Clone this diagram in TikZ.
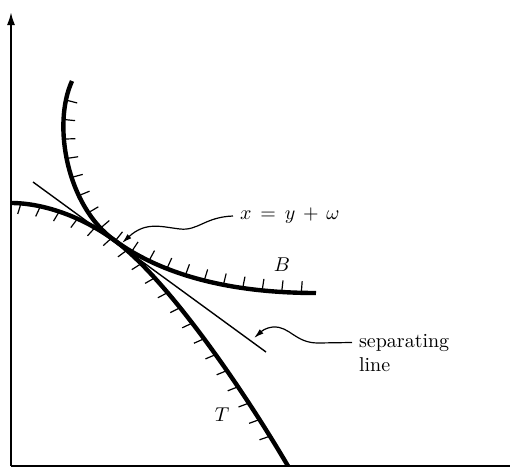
\documentclass[tikz,border=0pt]{standalone}
\usepackage{amsmath}
\usepackage{tikz}
\usetikzlibrary{arrows.meta}
\usetikzlibrary{decorations.markings}
\tikzset{
    % axes
    axisline/.style={
        line width=1pt,
        black
    },
    % thick boundary curves B and T
    boundcurve/.style={
        line width=2.2pt,
        black
    },
    % short ticks on the upper side of B
    hatchB/.style={
        postaction={decorate},
        decoration={markings,
            mark=between positions 10pt and -4pt step 9.8pt with
            {\draw[line width=0.6pt] (0pt,0pt) -- (0.3pt,5.8pt);}}
    },
    % short ticks on the lower side of T
    hatchT/.style={
        postaction={decorate},
        decoration={markings,
            mark=between positions 5pt and -9pt step 9.8pt with
            {\draw[line width=0.6pt] (0pt,0pt) -- (-1.2pt,-5.4pt);}}
    },
    % thin pointer lines to the labels
    leaderarrow/.style={
        line width=0.6pt,
        black,
        -{Latex[length=5pt,width=2.8pt]}
    }
}

\begin{document}
\begin{tikzpicture}[x=0.5pt,y=-0.5pt]
	\useasboundingbox (0,0) rectangle (510,467);
	
	\path
	(11,466) coordinate (o)
	(11,12) coordinate (ytop)
	(510,466) coordinate (xend)
	(114,240) coordinate (p)
	(72,81) coordinate (b1)
	(316,293) coordinate (b2)
	(11,203) coordinate (t1)
	(288,466) coordinate (t2)
	(33,182) coordinate (s1)
	(266,352) coordinate (s2)
	(122,243) coordinate (tip1)
	(254,338) coordinate (tip2);
	
	% axes
	\draw[axisline,-{Latex[length=6.5pt,width=4pt]}] (o) -- (ytop);
	\draw[axisline] (o) -- (xend);
	
	% separating line
	\draw[line width=0.7pt] (s1) -- (s2);
	
	% curve B
	\draw[boundcurve,hatchB] (b1) .. controls (52,125) and (67,206) .. (p)
		.. controls (162,275) and (230,293) .. (b2);
	% curve T
	\draw[boundcurve,hatchT] (t1) .. controls (45,203) and (84,218) .. (p)
		.. controls (164,276) and (238,381) .. (t2);
	
	% labels
	\node[anchor=west] (xlab) at (233,216)
		{$\thickmuskip=8mu\medmuskip=7mu x = y + \omega$};
	\node (blab) at (282,265) {$B$};
	\node (tlab) at (222,415) {$T$};
	\node[anchor=base west] (sep1) at (352,347) {separating};
	\node[anchor=base west] (sep2) at (352,371) {line};
	
	% pointers
	\draw[leaderarrow] (xlab.west) .. controls (205,217) and (198,231) .. (180,229)
		.. controls (162,227) and (146,221) .. (tip1);
	\draw[leaderarrow] (sep1.west) -- (318,343) .. controls (295,343) and (290,326) .. (273,327)
		.. controls (265,328) and (262,331) .. (tip2);
\end{tikzpicture}
\end{document}
